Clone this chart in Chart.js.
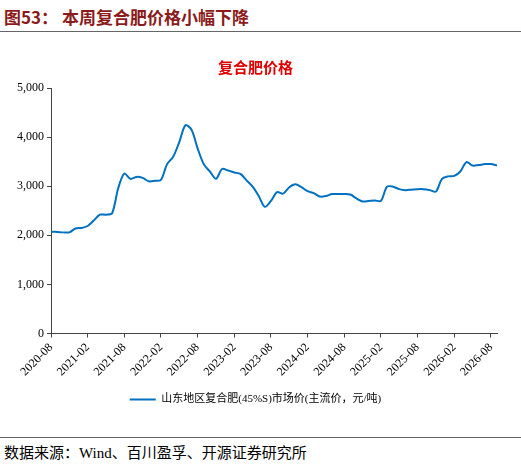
<!DOCTYPE html>
<html><head><meta charset="utf-8">
<script src="https://cdn.jsdelivr.net/npm/chart.js@4"></script>
<style>
body{margin:0;width:521px;height:469px;background:#fff;font-family:"Liberation Serif","Noto Sans CJK SC",serif;position:relative;overflow:hidden}
#hd{position:absolute;left:4px;top:4px;font-size:17px;font-weight:bold;color:#8b1a1a;font-family:"Noto Sans CJK SC",sans-serif}
#l1{position:absolute;left:0;right:0;top:31px;border-top:1.5px solid #666}
#l2{position:absolute;left:0;right:0;top:437px;border-top:1.5px solid #666}
#ft{position:absolute;left:4px;top:441px;font-size:15px;color:#000}
#wrap{position:absolute;left:0;top:52px;width:521px;height:363px}
</style></head><body>
<div id="hd">图53：&nbsp;本周复合肥价格小幅下降</div>
<div id="l1"></div>
<div id="wrap"><canvas id="c"></canvas></div>
<div id="l2"></div>
<div id="ft">数据来源：Wind、百川盈孚、开源证券研究所</div>
<script>
const months = [];
for (let i = 0; i < 74; i++){
  const y = 2020 + Math.floor((7 + i) / 12);
  const m = (7 + i) % 12 + 1;
  months.push(`${y}-${String(m).padStart(2,'0')}`);
}
const prices = [2070,2070,2060,2060,2140,2150,2190,2300,2420,2420,2450,2960,3260,3150,3190,3170,3100,3110,3130,3450,
  3600,3900,4240,4150,3770,3450,3300,3150,3350,3320,3280,3250,3120,2990,2800,2580,2700,2880,2850,2980,
  3040,2980,2900,2860,2790,2800,2840,2840,2840,2830,2750,2690,2700,2710,2700,2990,2990,2940,2920,2930,
  2940,2940,2920,2890,3150,3200,3210,3300,3490,3420,3430,3450,3450,3420];
const seriesName = '山东地区复合肥(45%S)市场价(主流价，元/吨)';

const serif = '"Liberation Serif","Noto Sans CJK SC",serif';
new Chart(document.getElementById('c'), {
  type: 'line',
  data: { labels: months, datasets: [{ label: seriesName, data: prices, borderColor: '#0070c0', borderWidth: 2, pointRadius: 0, tension: 0.3 }] },
  options: {
    responsive: true, maintainAspectRatio: false, animation: false,
    layout: { padding: { left: 14, right: 24, top: 0, bottom: 0 } },
    plugins: {
      title: { display: true, text: '复合肥价格', color: '#e00000', font: { size: 15, family: '"Noto Sans CJK SC",sans-serif' }, padding: { top: 6, bottom: 12 } },
      legend: { position: 'bottom', labels: { boxWidth: 26, boxHeight: 0, color: '#000', padding: 12, font: { size: 11, family: serif } } },
      tooltip: { enabled: false }
    },
    scales: {
      x: {
        offset: false,
        grid: { drawOnChartArea: false, tickLength: 4, color: ctx => ctx.index % 6 === 0 ? '#444' : 'rgba(0,0,0,0)' },
        border: { color: '#444' },
        ticks: { autoSkip: false, maxRotation: 45, minRotation: 45, color: '#000', font: { size: 12, family: serif },
          callback: (v, i) => i % 6 === 0 ? months[i] : '' }
      },
      y: {
        min: 0, max: 5000,
        grid: { drawOnChartArea: false, tickLength: 4, color: '#444' },
        border: { color: '#444' },
        ticks: { stepSize: 1000, color: '#000', font: { size: 12, family: serif }, callback: v => v.toLocaleString('en-US') }
      }
    }
  }
});
</script>
</body></html>
